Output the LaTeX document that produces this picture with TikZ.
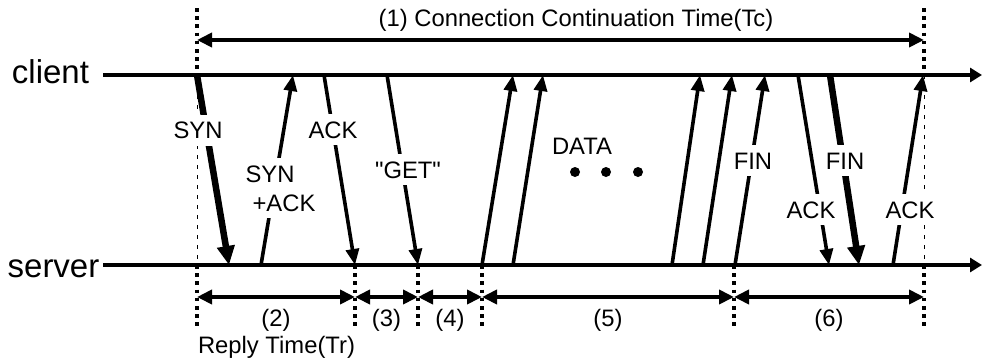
\documentclass[tikz,border=0pt]{standalone}
\usepackage{fontspec}
\setmainfont{Liberation Sans}
\usetikzlibrary{arrows.meta}
\begin{document}
\begin{tikzpicture}[x=1pt,y=-1pt,
  timeline/.style={line width=4.5pt,-{Triangle[length=12pt,width=14pt]}},
  msg/.style={line width=3.6pt,-{Triangle[length=16pt,width=13pt]}},
  msgthick/.style={line width=6.5pt,-{Triangle[length=19pt,width=17pt]}},
  interval/.style={line width=4.2pt,{Triangle[length=15pt,width=14pt]}-{Triangle[length=15pt,width=14pt]}},
  marker/.style={line width=4.5pt,dash pattern=on 3.6pt off 4.6pt},
  guide/.style={line width=1pt,dash pattern=on 4pt off 6pt},
  txt/.style={font=\fontsize{23.8}{26}\selectfont,inner sep=0pt,anchor=base},
  lbl/.style={txt,fill=white,text height=17pt,text depth=0pt,inner xsep=2pt,inner ysep=7pt},
  actor/.style={font=\fontsize{33}{36}\selectfont,inner sep=0pt,anchor=base}
]
\useasboundingbox (0,0) rectangle (982,360);

% time marks
\coordinate (m0top) at (197,8);   \coordinate (m0c) at (197,75);
\coordinate (m0s) at (197,265);   \coordinate (m0bot) at (197,326);
\coordinate (m5top) at (924,8);   \coordinate (m5c) at (924,75);
\coordinate (m5s) at (924,265);   \coordinate (m5bot) at (924,326);
\coordinate (m1s) at (355,265);   \coordinate (m1bot) at (355,326);
\coordinate (m2s) at (418,265);   \coordinate (m2bot) at (418,326);
\coordinate (m3s) at (482,265);   \coordinate (m3bot) at (482,326);
\coordinate (m4s) at (734,265);   \coordinate (m4bot) at (734,326);

\draw[marker] (m0top) -- (m0c);
\draw[guide]  (m0c) -- (m0s);
\draw[marker] (m0s) -- (m0bot);
\draw[marker] (m5top) -- (m5c);
\draw[guide]  (m5c) -- (m5s);
\draw[marker] (m5s) -- (m5bot);
\draw[marker] (m1s) -- (m1bot);
\draw[marker] (m2s) -- (m2bot);
\draw[marker] (m3s) -- (m3bot);
\draw[marker] (m4s) -- (m4bot);

% time lines
\node[actor] (client) at (50.5,83) {client};
\node[actor] (server) at (53.5,277) {server};
\coordinate (cstart) at (103,75);  \coordinate (cend) at (982,75);
\coordinate (sstart) at (103,265); \coordinate (send) at (982,265);
\draw[timeline] (cstart) -- (cend);
\draw[timeline] (sstart) -- (send);

% overall duration
\coordinate (tcA) at (197,40); \coordinate (tcB) at (924,40);
\draw[interval] (tcA) -- (tcB);
\node[txt] (tclbl) at (576,26) {(1) Connection Continuation Time(Tc)};

% phase durations
\coordinate (d0) at (197,297); \coordinate (d1) at (355,297);
\coordinate (d2) at (418,297); \coordinate (d3) at (482,297);
\coordinate (d4) at (734,297); \coordinate (d5) at (924,297);
\draw[interval] (d0) -- (d1);
\draw[interval] (d1) -- (d2);
\draw[interval] (d2) -- (d3);
\draw[interval] (d3) -- (d4);
\draw[interval] (d4) -- (d5);
\node[txt] (p2) at (276,326) {(2)};
\node[txt] (p3) at (386.5,326) {(3)};
\node[txt] (p4) at (450,326) {(4)};
\node[txt] (p5) at (608,326) {(5)};
\node[txt] (p6) at (829,326) {(6)};
\node[txt] (tr) at (276.5,353) {Reply Time(Tr)};

% handshake
\coordinate (synC) at (197,75);    \coordinate (synS) at (229,265);
\coordinate (saS) at (261,265);    \coordinate (saC) at (293,75);
\coordinate (ackC) at (324,75);    \coordinate (ackS) at (355,265);
\coordinate (getC) at (387,75);    \coordinate (getS) at (418,265);
\draw[msgthick] (synC) -- (synS);
\draw[msg] (saS) -- (saC);
\draw[msg] (ackC) -- (ackS);
\draw[msg] (getC) -- (getS);

% data transfer
\coordinate (d1S) at (482,265); \coordinate (d1C) at (513,75);
\coordinate (d2S) at (513,265); \coordinate (d2C) at (543,75);
\coordinate (d3S) at (672,265); \coordinate (d3C) at (700,75);
\coordinate (d4S) at (703,265); \coordinate (d4C) at (732,75);
\draw[msg] (d1S) -- (d1C);
\draw[msg] (d2S) -- (d2C);
\draw[msg] (d3S) -- (d3C);
\draw[msg] (d4S) -- (d4C);

% teardown
\coordinate (fin1S) at (735,265); \coordinate (fin1C) at (765,75);
\coordinate (ack2C) at (798,75);  \coordinate (ack2S) at (829,265);
\coordinate (fin2C) at (830,75);  \coordinate (fin2S) at (859,265);
\coordinate (ack3S) at (893,265); \coordinate (ack3C) at (923,75);
\draw[msg] (fin1S) -- (fin1C);
\draw[msg] (ack2C) -- (ack2S);
\draw[msgthick] (fin2C) -- (fin2S);
\draw[msg] (ack3S) -- (ack3C);

% message labels
\node[lbl] (synlbl) at (198,138.5) {SYN};
\node[lbl] (salbl1) at (270,182) {SYN};
\node[lbl] (salbl2) at (284,211) {+ACK};
\node[lbl] (acklbl) at (333,138) {ACK};
\node[lbl] (getlbl) at (408,178) {\textquotedbl GET\textquotedbl};
\node[txt] (datalbl) at (582,154) {DATA};
\fill (575,172) circle (5pt) coordinate (dot1);
\fill (606,172) circle (5pt) coordinate (dot2);
\fill (638,172) circle (5pt) coordinate (dot3);
\node[lbl] (fin1lbl) at (753,169) {FIN};
\node[lbl] (ack2lbl) at (811,218) {ACK};
\node[lbl] (fin2lbl) at (845,169) {FIN};
\node[lbl] (ack3lbl) at (910,218) {ACK};
\end{tikzpicture}
\end{document}
